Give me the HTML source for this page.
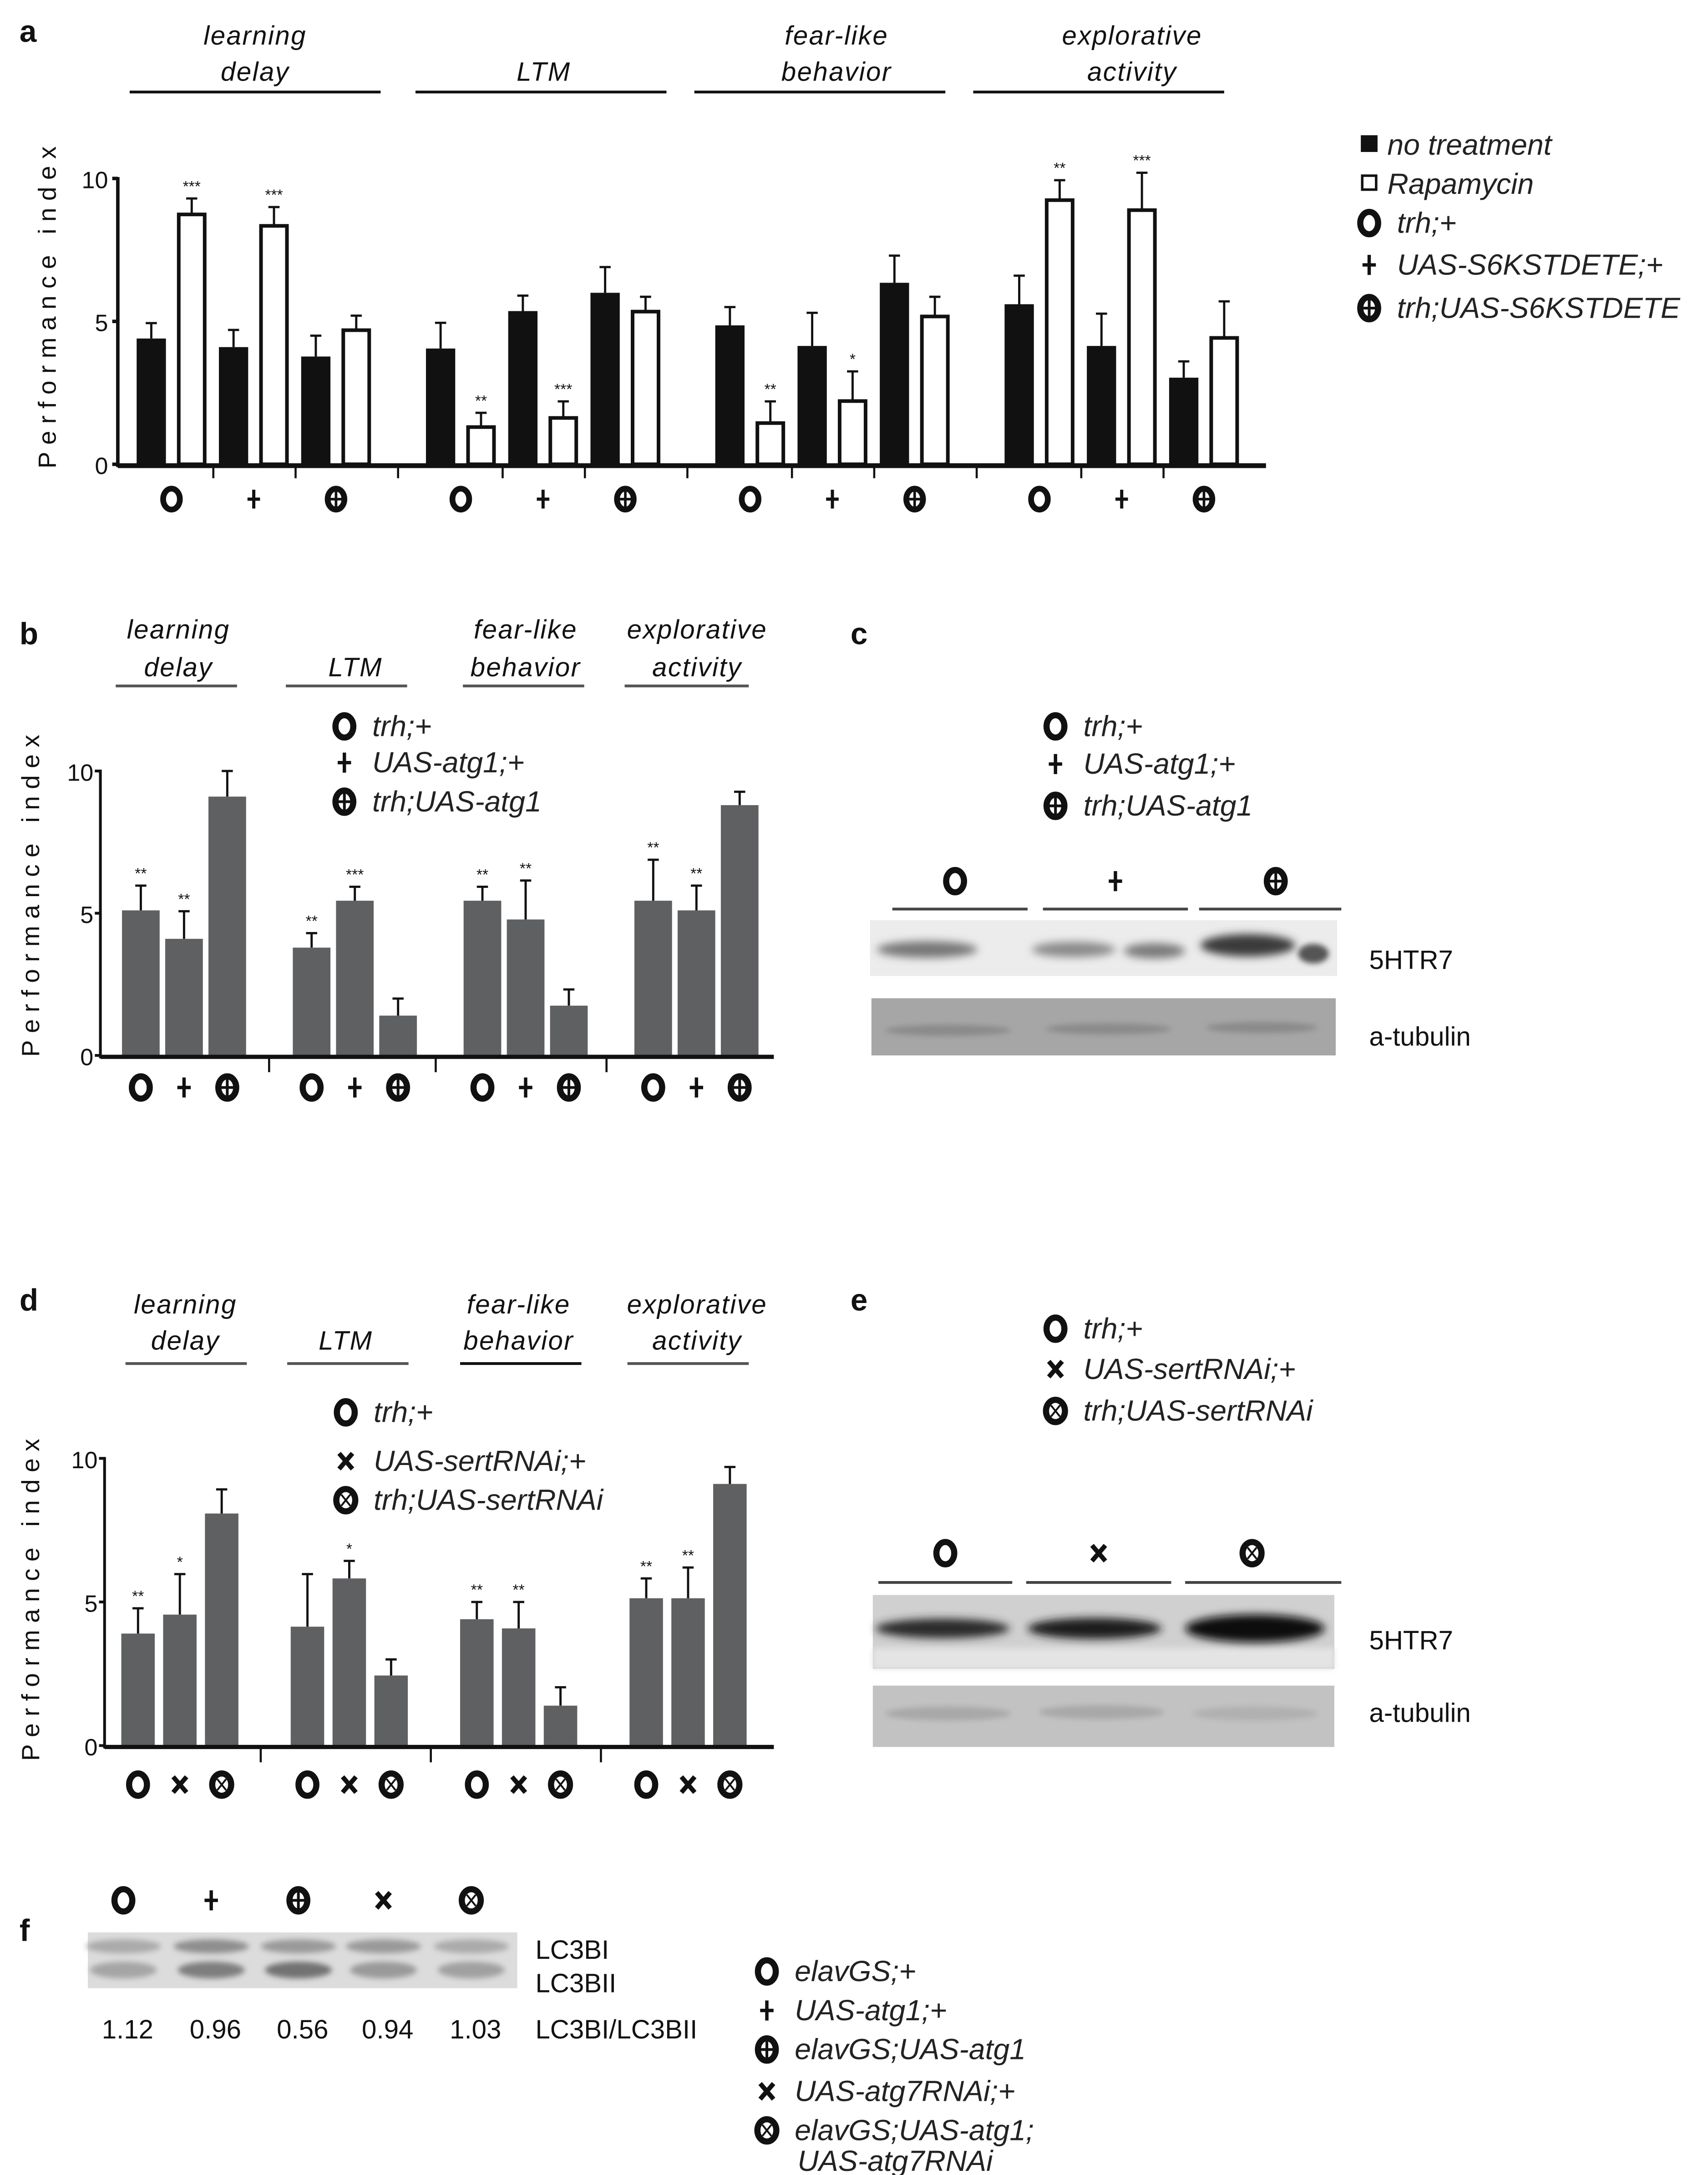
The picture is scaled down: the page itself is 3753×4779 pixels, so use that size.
<!DOCTYPE html>
<html><head><meta charset="utf-8">
<style>
html,body{margin:0;padding:0;background:#fff;}
svg{display:block;}
text{font-family:"Liberation Sans",sans-serif;}
.hd{font-style:italic;font-size:19px;letter-spacing:0.8px;fill:#111;}
.lg{font-style:italic;font-size:21px;fill:#222;font-family:"Liberation Sans Narrow","Liberation Sans",sans-serif;}
.pl{font-weight:bold;font-size:22px;fill:#111;}
.tk{font-size:17px;fill:#111;}
.yl{font-size:18px;letter-spacing:5px;fill:#111;}
.st{font-size:11px;fill:#111;}
.bl{font-size:19px;fill:#111;}
</style></head>
<body>
<svg id="fig" xmlns="http://www.w3.org/2000/svg" width="3753" height="4779" viewBox="0 0 1225 1560" preserveAspectRatio="none">
<defs>
<filter id="bl3" x="-20%" y="-50%" width="140%" height="200%"><feGaussianBlur stdDeviation="3"/></filter>
<filter id="bl2" x="-20%" y="-50%" width="140%" height="200%"><feGaussianBlur stdDeviation="2"/></filter>
</defs>
</svg>
<script>
// ---------- Panel a data ----------
const behaviors = ["learning delay","LTM","fear-like behavior","explorative activity"];
const genotypesA = ["o","plus","oplus"];
const aNoTreat    = [[4.4,4.1,3.77],[4.05,5.36,6.0],[4.86,4.14,6.35],[5.6,4.14,3.03]];
const aNoTreatErr = [[0.54,0.6,0.73],[0.9,0.54,0.9],[0.64,1.16,0.95],[1.0,1.13,0.57]];
const aRapa       = [[8.8,8.4,4.75],[1.36,1.68,5.4],[1.5,2.27,5.23],[9.3,8.95,4.48]];
const aRapaErr    = [[0.5,0.6,0.45],[0.44,0.52,0.46],[0.7,0.98,0.63],[0.64,1.25,1.22]];
const aRapaStars  = [["***","***",""],["**","***",""],["**","*",""],["**","***",""]];
const aNoStars    = [["","",""],["","",""],["","",""],["","",""]];
const aTicks = [0,5,10];
// ---------- Panel b data ----------
const genotypesB = ["o","plus","oplus"];
const bValues = [[5.1,4.1,9.1],[3.79,5.44,1.4],[5.44,4.78,1.75],[5.44,5.1,8.8]];
const bErr    = [[0.87,0.97,0.9],[0.51,0.49,0.6],[0.49,1.37,0.57],[1.44,0.87,0.47]];
const bStars  = [["**","**",""],["**","***",""],["**","**",""],["**","**",""]];
const bTicks = [0,5,10];
// ---------- Panel d data ----------
const genotypesD = ["o","x","otimes"];
const dValues = [[3.9,4.56,8.08],[4.14,5.82,2.44],[4.4,4.08,1.39],[5.13,5.13,9.11]];
const dErr    = [[0.88,1.41,0.84],[1.83,0.61,0.56],[0.6,0.92,0.64],[0.69,1.07,0.59]];
const dStars  = [["**","*",""],["","*",""],["**","**",""],["**","**",""]];
const dTicks = [0,5,10];
// ---------- Panel f data ----------
const fLanes = ["o","plus","oplus","x","otimes"];
const fRatios = ["1.12","0.96","0.56","0.94","1.03"];

const NS="http://www.w3.org/2000/svg";
const svg=document.getElementById('fig');
function mk(tag,attrs,parent){const e=document.createElementNS(NS,tag);for(const k in attrs)e.setAttribute(k,attrs[k]);(parent||svg).appendChild(e);return e;}
function txt(s,attrs,parent){const e=mk('text',attrs,parent);e.textContent=s;return e;}

function sym(type,cx,cy,r,parent){
  const g=mk('g',{},parent);
  const sw=r*0.55;
  if(type==='o'){mk('ellipse',{cx:cx,cy:cy,rx:r*0.8,ry:r,fill:'none',stroke:'#111','stroke-width':sw},g);}
  else if(type==='plus'){mk('path',{d:`M${cx-r*0.6} ${cy}H${cx+r*0.6}M${cx} ${cy-r*0.9}V${cy+r*0.9}`,stroke:'#111','stroke-width':sw*0.55,fill:'none'},g);}
  else if(type==='oplus'){mk('ellipse',{cx:cx,cy:cy,rx:r*0.8,ry:r,fill:'none',stroke:'#111','stroke-width':sw},g);
    mk('path',{d:`M${cx-r*0.6} ${cy}H${cx+r*0.6}M${cx} ${cy-r*0.8}V${cy+r*0.8}`,stroke:'#111','stroke-width':sw*0.45},g);}
  else if(type==='x'){mk('path',{d:`M${cx-r*0.6} ${cy-r*0.7}L${cx+r*0.6} ${cy+r*0.7}M${cx+r*0.6} ${cy-r*0.7}L${cx-r*0.6} ${cy+r*0.7}`,stroke:'#111','stroke-width':sw*0.75},g);}
  else if(type==='otimes'){mk('ellipse',{cx:cx,cy:cy,rx:r*0.85,ry:r,fill:'none',stroke:'#111','stroke-width':sw},g);
    mk('path',{d:`M${cx-r*0.4} ${cy-r*0.5}L${cx+r*0.4} ${cy+r*0.5}M${cx+r*0.4} ${cy-r*0.5}L${cx-r*0.4} ${cy+r*0.5}`,stroke:'#111','stroke-width':sw*0.3},g);}
  return g;
}
function header(lines,cx,y1,y2,ux1,ux2,uy,lineCol){
  const g=mk('g',{});
  
  
  if(lines.length===2){txt(lines[0],{x:cx,y:y1,'text-anchor':'middle',class:'hd'},g);txt(lines[1],{x:cx,y:y2,'text-anchor':'middle',class:'hd'},g);}
  else txt(lines[0],{x:cx,y:y2,'text-anchor':'middle',class:'hd'},g);
  mk('line',{x1:ux1,x2:ux2,y1:uy,y2:uy,stroke:lineCol,'stroke-width':2},g);
}
function yLabel(cx,cy){
  const t=txt('Performance index',{x:cx,y:cy,'text-anchor':'middle',class:'yl',transform:`rotate(-90 ${cx} ${cy})`});
  
  
}
function legendEntry(type,x,y,label,size){
  const g=mk('g',{});
  
  
  sym(type,x,y-7,size||8,g);
  txt(label,{x:x+20,y:y,class:'lg'},g);
}
const hdLines=[["learning","delay"],["LTM"],["fear-like","behavior"],["explorative","activity"]];

// ================= PANEL A =================
txt('a',{x:14,y:30,class:'pl'});
const hA=[[183,93,273],[390,298,478],[600,498,678],[812,698,878]];
hA.forEach((h,i)=>header(hdLines[i],h[0],32,58,h[1],h[2],66,'#111'));
const ya=v=>333-v*20.5;
const axA=84.5;
const gA=mk('g',{});


mk('line',{x1:axA,x2:axA,y1:ya(10)-1,y2:ya(0)+2,stroke:'#111','stroke-width':2.5},gA);
aTicks.forEach(t=>{
  mk('line',{x1:axA-4,x2:axA,y1:ya(t),y2:ya(t),stroke:'#111','stroke-width':2.5},gA);
  const tl=txt(String(t),{x:axA-7,y:ya(t)+7,'text-anchor':'end',class:'tk'},gA);
  
});
yLabel(40,218);
function errBar(x,top,errTop,g){mk('path',{d:`M${x} ${top}V${errTop}M${x-4} ${errTop}H${x+4}`,stroke:'#111','stroke-width':1.6,fill:'none'},g);}
behaviors.forEach((b,gi)=>{
  genotypesA.forEach((gt,pi)=>{
    const base=98+gi*207.5+pi*59;
    const v0=aNoTreat[gi][pi];
    errBar(base+10.5,ya(v0),ya(v0+aNoTreatErr[gi][pi]),gA);
    const r0=mk('rect',{x:base,y:ya(v0),width:21,height:ya(0)-ya(v0),fill:'#111'},gA);
    
    
    const v1=aRapa[gi][pi];
    errBar(base+29+10.5,ya(v1),ya(v1+aRapaErr[gi][pi]),gA);
    const r1=mk('rect',{x:base+29+1.2,y:ya(v1)+1.2,width:18.6,height:ya(0)-ya(v1)-1.2,fill:'#fff',stroke:'#111','stroke-width':2.6},gA);
    
    
    if(aRapaStars[gi][pi]) txt(aRapaStars[gi][pi],{x:base+39.5,y:ya(v1+aRapaErr[gi][pi])-5,'text-anchor':'middle',class:'st'},gA);
    if(aNoStars[gi][pi]) txt(aNoStars[gi][pi],{x:base+10.5,y:ya(v0+aNoTreatErr[gi][pi])-5,'text-anchor':'middle',class:'st'},gA);
    sym(gt,base+25,358,7.5,gA);
    if(pi>0) mk('line',{x1:base-4,x2:base-4,y1:ya(0),y2:ya(0)+10,stroke:'#111','stroke-width':1.5},gA);
  });
  if(gi>0) mk('line',{x1:98+gi*207.5-20,x2:98+gi*207.5-20,y1:ya(0),y2:ya(0)+10,stroke:'#111','stroke-width':1.5},gA);
});
mk('line',{x1:axA,x2:908,y1:ya(0)+1,y2:ya(0)+1,stroke:'#111','stroke-width':3.5},gA);
// legend a
const lgA=mk('g',{});


mk('rect',{x:976,y:97,width:12,height:12,fill:'#111'},lgA);
txt('no treatment',{x:995,y:111,class:'lg'},lgA);
mk('rect',{x:977,y:126,width:10,height:10,fill:'#fff',stroke:'#111','stroke-width':1.8},lgA);
txt('Rapamycin',{x:995,y:139,class:'lg'},lgA);
legendEntry('o',982,167,'trh;+');
legendEntry('plus',982,197,'UAS-S6KSTDETE;+');
legendEntry('oplus',982,228,'trh;UAS-S6KSTDETE');

// ================= grey bar chart helper =================
function greyChart(name,vals,errs,stars,gts,ticks,ax,y0,scale,x0,gp,bp,bw,axEnd,symY,sepXs){
  const g=mk('g',{});
  
  
  const yy=v=>y0-v*scale;
  mk('line',{x1:ax,x2:ax,y1:yy(10)-1,y2:yy(0)+2,stroke:'#111','stroke-width':2},g);
  ticks.forEach(t=>{
    mk('line',{x1:ax-4,x2:ax,y1:yy(t),y2:yy(t),stroke:'#111','stroke-width':2},g);
    const tl=txt(String(t),{x:ax-5,y:yy(t)+7,'text-anchor':'end',class:'tk'},g);
    
  });
  vals.forEach((grp,gi)=>{
    grp.forEach((v,i)=>{
      const x=x0+gi*gp+i*bp;
      const e=v+errs[gi][i];
      errBar(x+bw/2,yy(v),yy(e),g);
      const r=mk('rect',{x:x,y:yy(v),width:bw,height:yy(0)-yy(v),fill:'#5f6062'},g);
      
      
      if(stars[gi][i]) txt(stars[gi][i],{x:x+bw/2,y:yy(e)-5,'text-anchor':'middle',class:'st'},g);
      sym(gts[i],x+bw/2,symY,8,g);
    });
  });
  sepXs.forEach(sx=>mk('line',{x1:sx,x2:sx,y1:yy(0),y2:yy(0)+12,stroke:'#111','stroke-width':1.5},g));
  mk('line',{x1:ax,x2:axEnd,y1:yy(0)+1,y2:yy(0)+1,stroke:'#111','stroke-width':3},g);
}

// ================= PANEL B =================
txt('b',{x:14,y:462,class:'pl'});
const hB=[[128,83,170],[255,205,292],[377,332,419],[500,448,537]];
hB.forEach((h,i)=>header(hdLines[i],h[0],458,485,h[1],h[2],492,'#555'));
greyChart('panel-b-chart',bValues,bErr,bStars,genotypesB,bTicks,72,757,20.4,87.5,122.5,31,27,555,780,[193,312.5,435]);
yLabel(28,640);
legendEntry('o',247,528,'trh;+');
legendEntry('plus',247,554,'UAS-atg1;+');
legendEntry('oplus',247,582,'trh;UAS-atg1');

// ================= PANEL C =================
txt('c',{x:610,y:462,class:'pl'});
legendEntry('o',757,528,'trh;+');
legendEntry('plus',757,555,'UAS-atg1;+');
legendEntry('oplus',757,585,'trh;UAS-atg1');
const blotC=mk('g',{});


[[685,'o',640,737],[800,'plus',748,852],[915,'oplus',860,962]].forEach(l=>{
  sym(l[1],l[0],632,8,blotC);
  mk('line',{x1:l[2],x2:l[3],y1:652,y2:652,stroke:'#444','stroke-width':2},blotC);
});
mk('rect',{x:624,y:660,width:335,height:40,fill:'#ececec'},blotC);
mk('ellipse',{cx:665,cy:681,rx:36,ry:6,fill:'#777',filter:'url(#bl3)'},blotC);
mk('ellipse',{cx:770,cy:681,rx:30,ry:5.5,fill:'#8a8a8a',filter:'url(#bl3)'},blotC);
mk('ellipse',{cx:828,cy:682,rx:22,ry:5.5,fill:'#7a7a7a',filter:'url(#bl3)'},blotC);
mk('ellipse',{cx:895,cy:678,rx:34,ry:8,fill:'#3a3a3a',filter:'url(#bl3)'},blotC);
mk('ellipse',{cx:942,cy:684,rx:11,ry:7,fill:'#555',filter:'url(#bl2)'},blotC);
mk('rect',{x:625,y:716,width:333,height:41,fill:'#a6a6a6'},blotC);
mk('ellipse',{cx:680,cy:739,rx:45,ry:4,fill:'#8a8a8a',filter:'url(#bl2)'},blotC);
mk('ellipse',{cx:795,cy:738,rx:45,ry:4,fill:'#8a8a8a',filter:'url(#bl2)'},blotC);
mk('ellipse',{cx:905,cy:737,rx:40,ry:4,fill:'#8a8a8a',filter:'url(#bl2)'},blotC);
txt('5HTR7',{x:982,y:695,class:'bl'},blotC);
txt('a-tubulin',{x:982,y:750,class:'bl'},blotC);

// ================= PANEL D =================
txt('d',{x:14,y:940,class:'pl'});
const hD=[[133,90,177],[248,206,293],[372,330,417],[500,450,537]];
hD.forEach((h,i)=>header(hdLines[i],h[0],942,968,h[1],h[2],978,i===2?'#111':'#555'));
greyChart('panel-d-chart',dValues,dErr,dStars,genotypesD,dTicks,75,1252,20.6,87,121.5,30,24,555,1280,[187,309,431]);
yLabel(28,1145);
legendEntry('o',248,1020,'trh;+');
legendEntry('x',248,1055,'UAS-sertRNAi;+');
legendEntry('otimes',248,1083,'trh;UAS-sertRNAi');

// ================= PANEL E =================
txt('e',{x:610,y:940,class:'pl'});
legendEntry('o',757,960,'trh;+');
legendEntry('x',757,989,'UAS-sertRNAi;+');
legendEntry('otimes',757,1019,'trh;UAS-sertRNAi');
const blotE=mk('g',{});


[[678,'o',630,726],[788,'x',736,840],[898,'otimes',850,962]].forEach(l=>{
  sym(l[1],l[0],1114,8,blotE);
  mk('line',{x1:l[2],x2:l[3],y1:1135,y2:1135,stroke:'#444','stroke-width':2},blotE);
});
mk('rect',{x:626,y:1144,width:331,height:53,fill:'#d0d0d0'},blotE);
mk('rect',{x:626,y:1182,width:331,height:15,fill:'#e4e4e4',filter:'url(#bl2)'},blotE);
mk('ellipse',{cx:676,cy:1168,rx:48,ry:7,fill:'#2a2a2a',filter:'url(#bl3)'},blotE);
mk('ellipse',{cx:785,cy:1168,rx:48,ry:7.5,fill:'#1e1e1e',filter:'url(#bl3)'},blotE);
mk('ellipse',{cx:900,cy:1168,rx:50,ry:10,fill:'#0c0c0c',filter:'url(#bl3)'},blotE);
mk('rect',{x:626,y:1209,width:331,height:44,fill:'#c2c2c2'},blotE);
mk('ellipse',{cx:680,cy:1229,rx:45,ry:5,fill:'#a8a8a8',filter:'url(#bl2)'},blotE);
mk('ellipse',{cx:790,cy:1228,rx:45,ry:5,fill:'#a8a8a8',filter:'url(#bl2)'},blotE);
mk('ellipse',{cx:900,cy:1229,rx:45,ry:5,fill:'#b0b0b0',filter:'url(#bl2)'},blotE);
txt('5HTR7',{x:982,y:1183,class:'bl'},blotE);
txt('a-tubulin',{x:982,y:1235,class:'bl'},blotE);

// ================= PANEL F =================
txt('f',{x:14,y:1392,class:'pl'});
const blotF=mk('g',{});


mk('rect',{x:63,y:1386,width:308,height:40,fill:'#dcdcdc'},blotF);
const laneX=[88.5,151.5,214,275,338];
const bandI=['#aaa','#8e8e8e','#9a9a9a','#9a9a9a','#aaa'];
const bandII=['#a5a5a5','#7e7e7e','#727272','#9a9a9a','#a0a0a0'];
fLanes.forEach((t,i)=>{
  sym(t,laneX[i],1363,8,blotF);
  mk('ellipse',{cx:laneX[i],cy:1396,rx:27,ry:5,fill:bandI[i],filter:'url(#bl2)'},blotF);
  mk('ellipse',{cx:laneX[i],cy:1413,rx:24,ry:6,fill:bandII[i],filter:'url(#bl2)'},blotF);
  const r=txt(fRatios[i],{x:laneX[i]+3,y:1462,'text-anchor':'middle',class:'bl'},blotF);
  
});
txt('LC3BI',{x:384,y:1405,class:'bl'},blotF);
txt('LC3BII',{x:384,y:1429,class:'bl'},blotF);
txt('LC3BI/LC3BII',{x:384,y:1462,class:'bl'},blotF);
legendEntry('o',550,1421,'elavGS;+');
legendEntry('plus',550,1449,'UAS-atg1;+');
legendEntry('oplus',550,1477,'elavGS;UAS-atg1');
legendEntry('x',550,1507,'UAS-atg7RNAi;+');
legendEntry('otimes',550,1535,'elavGS;UAS-atg1;');
txt('UAS-atg7RNAi',{x:572,y:1557,class:'lg'});
</script>
</body></html>
